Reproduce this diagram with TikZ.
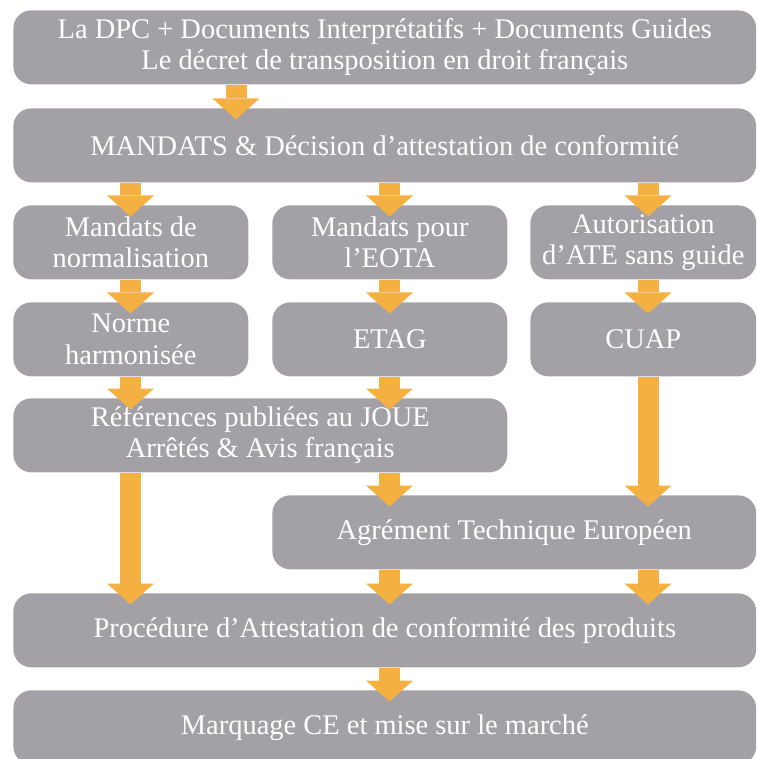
\documentclass[tikz,border=0pt]{standalone}
\usepackage{fontspec}
\setmainfont{Liberation Serif}
\usepackage{tikz}
\usetikzlibrary{arrows.meta, positioning, calc}

\definecolor{boxgray}{RGB}{164,161,166}
\definecolor{floworange}{RGB}{244,177,65}

\begin{document}
\begin{tikzpicture}[x=0.02cm, y=-0.02cm]
        % Styles
        \tikzstyle{stage} = [fill=boxgray, rounded corners=0.36cm, text=white, align=center,
                             inner sep=0pt, minimum height=1.48cm, anchor=north west,
                             font=\fontsize{16.2}{17.8}\selectfont]
        \tikzstyle{flow} = [draw=floworange, line width=0.42cm,
                            -{Triangle[width=0.94cm, length=0.42cm, line width=0pt]}]

        \clip (0,0) rectangle (756,759);

        % Columns of the arrows
        \coordinate (x0) at (236,0);
        \coordinate (x1) at (130.5,0);
        \coordinate (x2) at (389.5,0);
        \coordinate (x3) at (648,0);

        % Full width boxes
        \node[stage, minimum width=14.86cm] (dpc) at (13,10)
            {La DPC + Documents Interprétatifs + Documents Guides\\Le décret de transposition en droit français};
        \node[stage, minimum width=14.86cm] (mandats) at (13,108)
            {MANDATS \& Décision d’attestation de conformité};

        % Three columns
        \node[stage, minimum width=4.7cm] (mnorm) at (13,205) {Mandats de\\normalisation};
        \node[stage, minimum width=4.7cm] (meota) at (272,205) {Mandats pour\\l’EOTA};
        \node[stage, minimum width=4.52cm] (aute) at (530,205) {Autorisation\\d’ATE sans guide};

        \node[stage, minimum width=4.7cm] (norme) at (13,302) {Norme\\harmonisée};
        \node[stage, minimum width=4.7cm] (etag) at (272,302) {ETAG};
        \node[stage, minimum width=4.52cm] (cuap) at (530,302) {CUAP};

        % Publications and ATE
        \node[stage, minimum width=9.88cm] (joue) at (13,398)
            {Références publiées au JOUE\\Arrêtés \& Avis français};
        \node[stage, minimum width=9.68cm] (ate) at (272,495) {Agrément Technique Européen};

        % Attestation and marking
        \node[stage, minimum width=14.86cm] (proc) at (13,593)
            {Procédure d’Attestation de conformité des produits};
        \node[stage, minimum width=14.86cm] (ce) at (13,690) {Marquage CE et mise sur le marché};

        % Arrows, tips over the next box
        \foreach \a/\b/\c in {dpc/mandats/x0,
                              mandats/mnorm/x1, mandats/meota/x2, mandats/aute/x3,
                              mnorm/norme/x1, meota/etag/x2, aute/cuap/x3,
                              norme/joue/x1, etag/joue/x2,
                              joue/ate/x2, cuap/ate/x3,
                              joue/proc/x1, ate/proc/x2, ate/proc/x3,
                              proc/ce/x2} {
            \draw[flow] (\a.south -| \c) -- ([yshift=-0.23cm]\b.north -| \c);
        }
\end{tikzpicture}
\end{document}
